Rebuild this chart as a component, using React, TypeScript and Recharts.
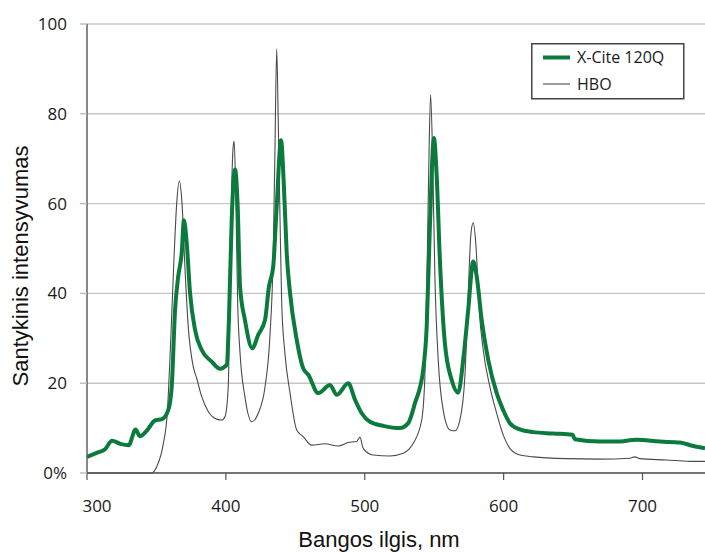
import React from 'react';
import { LineChart, Line, XAxis, YAxis, CartesianGrid, Label } from 'recharts';

// X-Cite 120Q spectrum (wavelength nm, relative intensity)
const xciteNm = [300, 307, 313, 318, 324, 330, 335, 338, 343, 349, 354, 358.5, 361, 363.4, 365.7, 368.2, 369.8, 371.8, 374.2, 377.8, 382.6, 389.8, 395.8, 400.6, 402.2, 404.2, 406.6, 408.5, 410.2, 413.7, 419, 423.3, 428.2, 431, 434.1, 436.6, 439.7, 441.8, 443.8, 446.2, 451, 455.7, 459.3, 466.5, 475, 479.8, 488.1, 493, 497.8, 503.7, 513.3, 525.3, 531.3, 536.1, 542.1, 544.6, 546.9, 549.8, 551.8, 554.1, 557.7, 562.6, 567.3, 570.9, 574.5, 578.1, 580.6, 584.2, 588.9, 595, 599.7, 604.5, 611.7, 621.3, 635.7, 649.7, 651.3, 669.3, 681.3, 695.7, 712.5, 726.9, 736.5, 745];
const xciteVal = [3.6, 4.5, 5.3, 7.2, 6.5, 6.2, 9.7, 8.2, 9.4, 11.7, 12.0, 14.0, 19.2, 36.3, 43.8, 49.0, 56.3, 51.2, 40.1, 31.9, 27.4, 24.8, 23.2, 24.1, 34.1, 56.4, 67.6, 59.4, 41.5, 34.1, 27.8, 30.8, 34.1, 41.5, 46.0, 59.4, 74.1, 63.8, 49.0, 40.1, 29.7, 23.3, 21.9, 17.8, 19.6, 17.4, 20.0, 16.3, 13.3, 11.4, 10.5, 10.0, 11.1, 15.5, 23.0, 32.6, 54.9, 74.6, 66.1, 47.5, 28.9, 20.7, 17.9, 25.2, 36.3, 47.1, 43.8, 34.1, 25.2, 17.8, 14.0, 11.1, 9.7, 9.1, 8.8, 8.5, 7.5, 7.0, 7.0, 7.4, 7.0, 6.8, 6.0, 5.5];

// HBO spectrum
const hboNm = [300, 346.6, 350.2, 355, 357.8, 360.2, 362.6, 364.6, 366.5, 368.4, 370.6, 372.9, 376.5, 379, 382.6, 387.3, 393.4, 397, 399.4, 401.7, 403, 404.2, 405.3, 406, 407, 408.5, 410.2, 413.7, 418.6, 423.3, 428.2, 431.7, 434.1, 435.3, 436.6, 437.7, 439, 440.2, 442.5, 446.2, 451, 455.7, 461.8, 471.3, 480.9, 488.1, 494.2, 496.5, 498.9, 506.1, 518.1, 527.7, 534.9, 541, 543.3, 545, 546.2, 547.4, 548.9, 550.5, 552.9, 556.5, 561.3, 564.9, 568.5, 572.1, 574.5, 576.5, 578.1, 580.1, 582.4, 585.3, 590.1, 595, 599.7, 604.5, 611.7, 621.3, 645.4, 669.3, 690.9, 694.5, 698.1, 717.3, 734.1, 745];
const hboVal = [0, 0, 1.4, 6.6, 13.3, 28.9, 47.5, 60.1, 65.0, 60.1, 45.3, 32.6, 23.7, 21.1, 17.0, 13.7, 12.0, 11.8, 12.6, 19.2, 41.5, 63.8, 72.8, 73.9, 63.8, 37.8, 26.7, 17.0, 11.4, 13.3, 19.2, 30.4, 49.0, 71.3, 94.5, 78.7, 56.4, 37.8, 26.7, 17.8, 9.6, 8.1, 6.2, 6.5, 6.0, 6.8, 7.0, 8.0, 5.5, 4.0, 3.8, 4.4, 6.6, 11.8, 21.5, 47.5, 69.8, 84.3, 69.8, 43.8, 25.2, 14.0, 9.6, 9.4, 11.8, 21.5, 40.1, 53.4, 55.7, 50.5, 36.3, 27.4, 19.2, 13.3, 8.5, 5.5, 4.0, 3.6, 3.2, 3.1, 3.3, 3.6, 3.2, 2.9, 2.6, 2.6];

const xTicks = [300, 400, 500, 600, 700];
const yTicks = [0, 20, 40, 60, 80, 100];
const seriesNames = ['X-Cite 120Q', 'HBO'];
const xTitle = 'Bangos ilgis, nm';
const yTitle = 'Santykinis intensyvumas';

const xciteData = xciteNm.map((nm, i) => ({ nm, v: xciteVal[i] }));
const hboData = hboNm.map((nm, i) => ({ nm, v: hboVal[i] }));

const GREEN = '#0b7a3d';
const GRAY = '#4a4a4a';
const TICK_FONT = '"Open Sans", "Noto Sans", sans-serif';
const TITLE_FONT = '"Liberation Sans", Arial, sans-serif';

const XTick = (props: any) => {
  const { x, y, payload } = props;
  const shift = payload.value === 300 ? 10 : 0;
  return (
    <text x={x + shift} y={y} dy="0.71em" textAnchor="middle" fill="#1a1a1a" fontSize={17} fontFamily={TICK_FONT}>
      {payload.value}
    </text>
  );
};

const LegendBox = () => (
  <svg width={154} height={57} style={{ display: 'block' }}>
    <rect x={0.75} y={0.75} width={152} height={55} fill="#fff" stroke="#444" strokeWidth={1.5} />
    <line x1={12} y1={14.5} x2={39} y2={14.5} stroke={GREEN} strokeWidth={4} />
    <text x={46} y={14.5} dy="0.35em" fontSize={16} fontFamily={TICK_FONT} fill="#1a1a1a">{seriesNames[0]}</text>
    <line x1={12} y1={41} x2={39} y2={41} stroke="#666" strokeWidth={1.3} />
    <text x={46} y={41} dy="0.35em" fontSize={16} fontFamily={TICK_FONT} fill="#1a1a1a">{seriesNames[1]}</text>
  </svg>
);

export default function App() {
  return (
    <div style={{ position: 'absolute', left: 0, top: 0, width: 705, height: 552, background: '#fff' }}>
      <LineChart width={705} height={552} margin={{ top: 24, right: 0, left: 0, bottom: 0 }}>
        <CartesianGrid horizontal={true} vertical={false} stroke="#c6c6c6" strokeWidth={1.4} />
        <XAxis
          dataKey="nm"
          type="number"
          domain={[300, 745]}
          ticks={xTicks}
          allowDataOverflow
          height={79}
          tickSize={7}
          tickMargin={20}
          tick={<XTick />}
          axisLine={{ stroke: '#555', strokeWidth: 1.4 }}
          tickLine={{ stroke: '#555', strokeWidth: 1.2 }}
        >
          <Label
            content={() => (
              <text x={379} y={547} textAnchor="middle" fontSize={22} fontFamily={TITLE_FONT} fill="#111">
                {xTitle}
              </text>
            )}
          />
        </XAxis>
        <YAxis
          type="number"
          domain={[0, 100]}
          ticks={yTicks}
          width={87}
          tickSize={7}
          tickMargin={13}
          tickFormatter={(v: number) => (v === 0 ? '0%' : String(v))}
          tick={{ fill: '#1a1a1a', fontSize: 17, fontFamily: TICK_FONT }}
          axisLine={{ stroke: '#555', strokeWidth: 1.4 }}
          tickLine={{ stroke: '#bbbbbb', strokeWidth: 1.4 }}
        >
          <Label
            content={() => (
              <text
                x={20}
                y={266}
                transform="rotate(-90 20 266)"
                textAnchor="middle"
                dominantBaseline="central"
                fontSize={22}
                fontFamily={TITLE_FONT}
                fill="#111"
              >
                {yTitle}
              </text>
            )}
          />
        </YAxis>
        <Line
          data={hboData}
          dataKey="v"
          name={seriesNames[1]}
          type="monotone"
          stroke={GRAY}
          strokeWidth={1.1}
          dot={false}
          activeDot={false}
          isAnimationActive={false}
        />
        <Line
          data={xciteData}
          dataKey="v"
          name={seriesNames[0]}
          type="monotone"
          stroke={GREEN}
          strokeWidth={4}
          strokeLinejoin="round"
          dot={false}
          activeDot={false}
          isAnimationActive={false}
        />
      </LineChart>
      <div style={{ position: 'absolute', left: 531, top: 43 }}>
        <LegendBox />
      </div>
    </div>
  );
}
